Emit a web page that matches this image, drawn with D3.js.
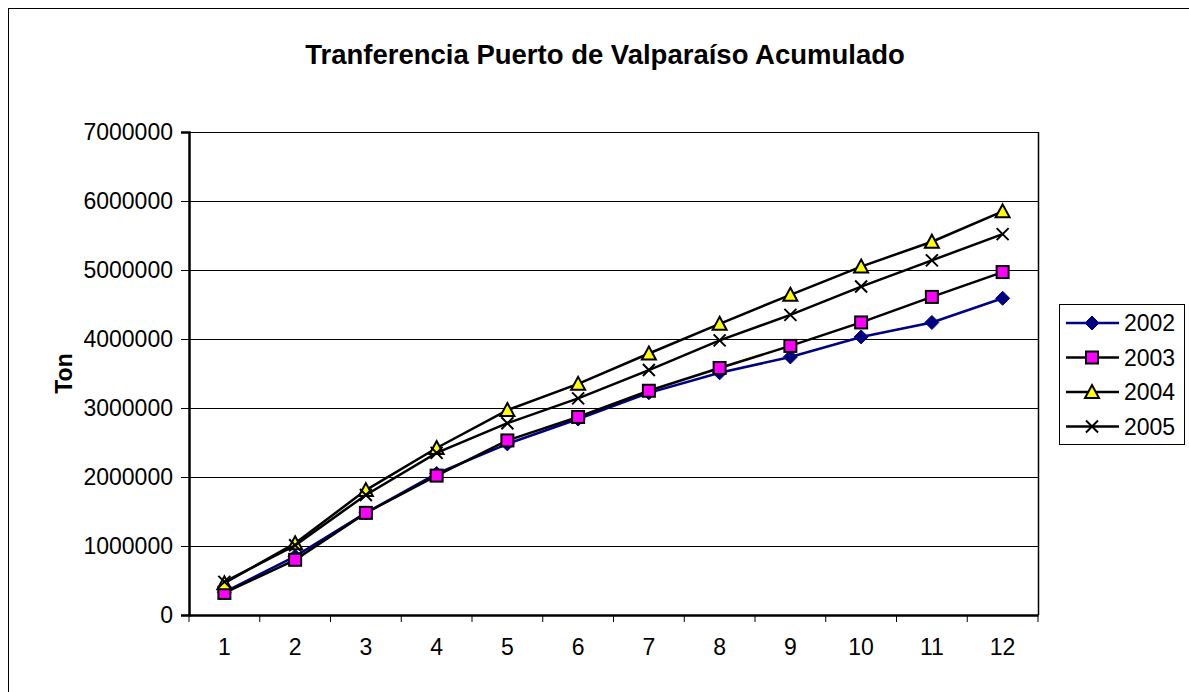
<!DOCTYPE html>
<meta charset="utf-8">
<script src="https://d3js.org/d3.v7.min.js"></script>
<style>
  body { margin: 0; background: #fff; }
  svg { font-family: "Liberation Sans", Arial, sans-serif; }
</style>
<div id="chart"></div>
<script>

// data (tons, accumulated)
var months = [1, 2, 3, 4, 5, 6, 7, 8, 9, 10, 11, 12];
var years = ["2002", "2003", "2004", "2005"];
var v2002 = [330000, 850000, 1480000, 2050000, 2480000, 2840000, 3220000, 3510000, 3740000, 4030000, 4240000, 4590000];
var v2003 = [320000, 800000, 1480000, 2020000, 2530000, 2870000, 3250000, 3580000, 3900000, 4240000, 4610000, 4970000];
var v2004 = [460000, 1040000, 1810000, 2420000, 2970000, 3350000, 3790000, 4220000, 4640000, 5050000, 5410000, 5850000];
var v2005 = [480000, 1010000, 1740000, 2350000, 2780000, 3140000, 3550000, 3980000, 4350000, 4760000, 5140000, 5520000];
var yTicks = [0, 1000000, 2000000, 3000000, 4000000, 5000000, 6000000, 7000000];

var series = [
  {name: years[0], values: v2002, line: "#000080", marker: "diamond", fill: "#000080"},
  {name: years[1], values: v2003, line: "#000000", marker: "square", fill: "#ff00ff"},
  {name: years[2], values: v2004, line: "#000000", marker: "triangle", fill: "#ffff00"},
  {name: years[3], values: v2005, line: "#000000", marker: "cross", fill: "none"}
];

var W = 1189, H = 692;
var plot = {left: 189, right: 1038, top: 132, bottom: 615};

var svg = d3.select("#chart").append("svg")
    .attr("width", W)
    .attr("height", H);

// outer chart frame (runs off the right and bottom edge)
svg.append("rect")
  .attr("x", 8.5).attr("y", 8.5)
  .attr("width", W + 20).attr("height", H + 20)
  .attr("fill", "#fff").attr("stroke", "#000").attr("stroke-width", 1);

var x = d3.scaleBand()
  .domain(months)
  .range([plot.left, plot.right]);

var y = d3.scaleLinear()
  .domain([0, 7000000])
  .range([plot.bottom, plot.top]);

// gridlines
svg.append("g")
  .selectAll("line")
  .data(yTicks.slice(1))
  .enter().append("line")
    .attr("x1", plot.left).attr("x2", plot.right)
    .attr("y1", function(d) { return Math.round(y(d)) + 0.5; })
    .attr("y2", function(d) { return Math.round(y(d)) + 0.5; })
    .attr("stroke", "#000").attr("stroke-width", 1);

// right edge of plot area
svg.append("line")
  .attr("x1", plot.right + 0.5).attr("x2", plot.right + 0.5)
  .attr("y1", plot.top).attr("y2", plot.bottom)
  .attr("stroke", "#000").attr("stroke-width", 1.5);

// y axis
var yAxis = svg.append("g")
  .attr("transform", "translate(" + plot.left + ",0)")
  .call(d3.axisLeft(y).tickValues(yTicks).tickFormat(d3.format("d")).tickSize(8).tickPadding(8));
yAxis.select(".domain").attr("stroke-width", 2.5);
yAxis.selectAll("text").attr("font-size", 23).attr("font-family", "Liberation Sans, Arial, sans-serif").attr("fill", "#000");

// x axis, ticks on category boundaries
var xAxis = svg.append("g")
  .attr("transform", "translate(0," + plot.bottom + ")")
  .call(d3.axisBottom(x).tickSize(0).tickPadding(24));
xAxis.select(".domain").attr("stroke-width", 2.5);
xAxis.selectAll("text").attr("font-size", 23).attr("font-family", "Liberation Sans, Arial, sans-serif").attr("fill", "#000");
xAxis.selectAll(".bound")
  .data(months.concat([13]))
  .enter().append("line")
    .attr("class", "bound")
    .attr("x1", function(d) { return d <= 12 ? x(d) : plot.right; })
    .attr("x2", function(d) { return d <= 12 ? x(d) : plot.right; })
    .attr("y1", 0).attr("y2", 7)
    .attr("stroke", "#000").attr("stroke-width", 1);

// title and axis title
svg.append("text")
  .attr("x", 605).attr("y", 64)
  .attr("text-anchor", "middle")
  .attr("font-size", 27.5).attr("font-weight", "bold")
  .text("Tranferencia Puerto de Valparaíso Acumulado");

svg.append("text")
  .attr("transform", "translate(72," + ((plot.top + plot.bottom) / 2) + ") rotate(-90)")
  .attr("text-anchor", "middle")
  .attr("font-size", 23).attr("font-weight", "bold")
  .text("Ton");

// marker drawing
function drawMarker(g, type, fill, color) {
  if (type === "diamond") {
    g.append("path").attr("d", "M0,-7L7,0L0,7L-7,0Z").attr("fill", fill).attr("stroke", color).attr("stroke-width", 1);
  } else if (type === "square") {
    g.append("rect").attr("x", -6).attr("y", -6).attr("width", 12).attr("height", 12)
      .attr("fill", fill).attr("stroke", "#000").attr("stroke-width", 2);
  } else if (type === "triangle") {
    g.append("path").attr("d", "M0,-7L7,6L-7,6Z").attr("fill", fill).attr("stroke", "#000").attr("stroke-width", 2);
  } else {
    g.append("path").attr("d", "M-6,-6L6,6M-6,6L6,-6").attr("fill", "none").attr("stroke", "#000").attr("stroke-width", 2);
  }
}

var line = d3.line()
  .x(function(d, i) { return x(months[i]) + x.bandwidth() / 2; })
  .y(function(d) { return y(d); });

series.forEach(function(s) {
  svg.append("path")
    .datum(s.values)
    .attr("fill", "none")
    .attr("stroke", s.line)
    .attr("stroke-width", 2.5)
    .attr("d", line);

  s.values.forEach(function(v, i) {
    var g = svg.append("g")
      .attr("transform", "translate(" + (x(months[i]) + x.bandwidth() / 2) + "," + y(v) + ")");
    drawMarker(g, s.marker, s.fill, s.line);
  });
});

// legend
var legend = svg.append("g");
legend.append("rect")
  .attr("x", 1059.5).attr("y", 304.5)
  .attr("width", 125).attr("height", 140)
  .attr("fill", "#fff").attr("stroke", "#000").attr("stroke-width", 1);

series.forEach(function(s, i) {
  var cy = 323 + i * 34.5;
  legend.append("line")
    .attr("x1", 1066).attr("x2", 1119)
    .attr("y1", cy).attr("y2", cy)
    .attr("stroke", s.line).attr("stroke-width", 2.5);
  var g = legend.append("g").attr("transform", "translate(1092," + cy + ")");
  drawMarker(g, s.marker, s.fill, s.line);
  legend.append("text")
    .attr("x", 1124).attr("y", cy + 8)
    .attr("font-size", 23)
    .text(s.name);
});

</script>
